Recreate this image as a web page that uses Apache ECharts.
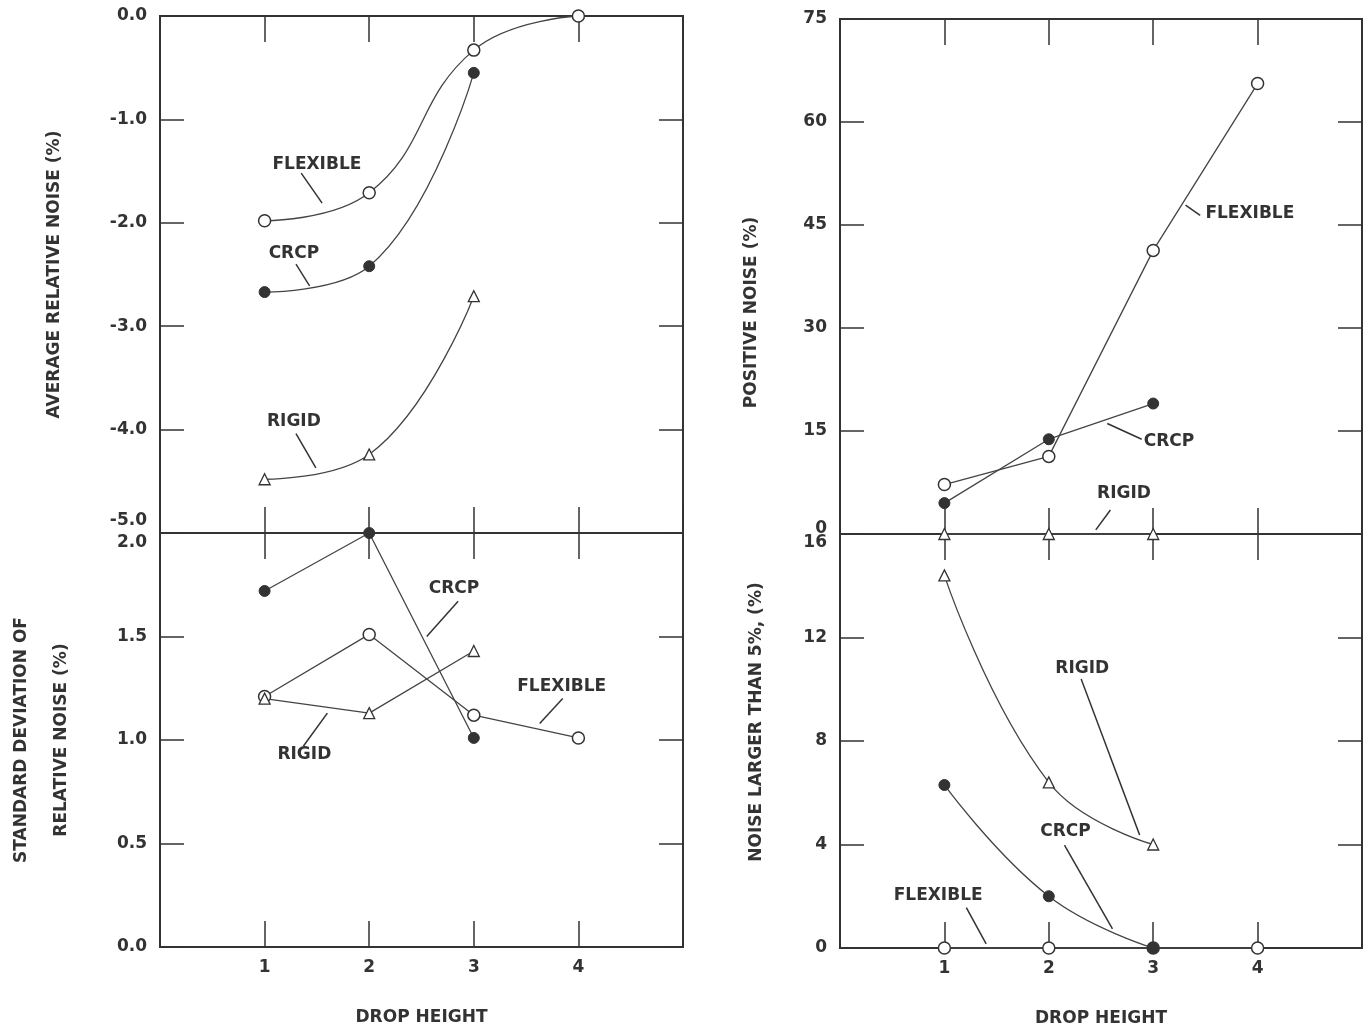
<!DOCTYPE html>
<html>
<head>
<meta charset="utf-8">
<script src="https://cdn.jsdelivr.net/npm/echarts@6/dist/echarts.min.js"></script>
<style>
html,body{margin:0;padding:0;background:#fff;}
#chart{width:1370px;height:1028px;}
</style>
</head>
<body>
<div id="chart"></div>
<script>
// ---- data ----
const dropHeight = [1, 2, 3, 4];

// Panel A: average relative noise (%)
const avgFlexible = [-1.98, -1.71, -0.33, 0.0];
const avgCrcp     = [-2.67, -2.42, -0.55];
const avgRigid    = [-4.48, -4.24, -2.71];

// Panel B: positive noise (%)
const posFlexible = [7.2, 11.3, 41.3, 65.6];
const posCrcp     = [4.5, 13.8, 19.0];
const posRigid    = [0, 0, 0];

// Panel C: standard deviation of relative noise (%)
const sdCrcp     = [1.72, 2.0, 1.01];
const sdFlexible = [1.21, 1.51, 1.12, 1.01];
const sdRigid    = [1.20, 1.13, 1.43];

// Panel D: noise larger than 5% (%)
const bigFlexible = [0, 0, 0, 0];
const bigCrcp     = [6.3, 2.0, 0];
const bigRigid    = [14.4, 6.4, 4.0];

// label annotations (data coordinates)
const annotations = [
  {g:0, text:'FLEXIBLE', at:[1.50,-1.44], align:'center', line:[[1.35,-1.52],[1.55,-1.81]]},
  {g:0, text:'CRCP',     at:[1.28,-2.30], align:'center', line:[[1.30,-2.40],[1.43,-2.61]]},
  {g:0, text:'RIGID',    at:[1.28,-3.92], align:'center', line:[[1.30,-4.04],[1.49,-4.37]]},
  {g:1, text:'FLEXIBLE', at:[3.50,46.6],  align:'left',   line:[[3.31,47.9],[3.45,46.4]]},
  {g:1, text:'CRCP',     at:[2.91,13.4],  align:'left',   line:[[2.56,16.1],[2.89,13.8]]},
  {g:1, text:'RIGID',    at:[2.72,5.9],   align:'center', line:[[2.59,3.5],[2.45,0.6]]},
  {g:2, text:'CRCP',     at:[2.81,1.73],  align:'center', line:[[2.85,1.67],[2.55,1.50]]},
  {g:2, text:'FLEXIBLE', at:[3.84,1.26],  align:'center', line:[[3.85,1.20],[3.63,1.08]]},
  {g:2, text:'RIGID',    at:[1.38,0.93],  align:'center', line:[[1.60,1.13],[1.37,0.97]]},
  {g:3, text:'RIGID',    at:[2.32,10.8],  align:'center', line:[[2.31,10.4],[2.87,4.37]]},
  {g:3, text:'CRCP',     at:[2.16,4.49],  align:'center', line:[[2.15,3.98],[2.61,0.74]]},
  {g:3, text:'FLEXIBLE', at:[0.94,2.03],  align:'center', line:[[1.21,1.56],[1.40,0.16]]}
];

// ---- styles ----
const INK = '#333';
const FONT = 'DejaVu Sans';
const labelFont = {color: INK, fontFamily: FONT, fontWeight: 'bold', fontSize: 17};
const nameFont = {color: INK, fontFamily: FONT, fontWeight: 'bold', fontSize: 17};
const tickStyle = {color: INK, width: 1.5};

const grids = [
  {left: 160, top: 16,  width: 523, height: 517},
  {left: 840, top: 19,  width: 522, height: 515},
  {left: 160, top: 533, width: 523, height: 414},
  {left: 840, top: 534, width: 522, height: 414}
].map(g => Object.assign({show: true, borderColor: INK, borderWidth: 2, backgroundColor: 'transparent'}, g));

function xAxes(g, bottomLabels) {
  const base = {
    type: 'value', gridIndex: g, min: 0, max: 5, interval: 1,
    axisLine: {show: false, onZero: false}, splitLine: {show: false},
    axisTick: {inside: true, length: 26, lineStyle: tickStyle}
  };
  return [
    Object.assign({}, base, {
      position: 'bottom',
      axisLabel: {show: bottomLabels, margin: 12, ...labelFont,
        formatter: v => (v >= 1 && v <= 4) ? String(v) : ''},
      name: bottomLabels ? 'DROP HEIGHT' : '',
      nameLocation: 'middle', nameGap: 62, nameTextStyle: nameFont
    }),
    Object.assign({}, base, {position: 'top', axisLabel: {show: false}})
  ];
}

function yAxes(g, min, max, interval, fmt, name, nameGap, namePad, lineH, rich) {
  const base = {
    type: 'value', gridIndex: g, min: min, max: max, interval: interval,
    axisLine: {show: false, onZero: false}, splitLine: {show: false},
    axisTick: {inside: true, length: 24, lineStyle: tickStyle}
  };
  return [
    Object.assign({}, base, {
      position: 'left',
      axisLabel: {margin: 13, ...labelFont, formatter: fmt, rich: rich},
      name: name, nameLocation: 'middle', nameGap: nameGap,
      nameTextStyle: Object.assign({}, nameFont, {padding: namePad, lineHeight: lineH})
    }),
    Object.assign({}, base, {position: 'right', axisLabel: {show: false}})
  ];
}

const richBase = {fontFamily: FONT, fontWeight: 'bold', fontSize: 17, color: INK};
const xAxis = [].concat(xAxes(0, false), xAxes(1, false), xAxes(2, true), xAxes(3, true));
const yAxis = [].concat(
  yAxes(0, -5, 0, 1, v => v === -5 ? '{up|-5.0}' : v.toFixed(1),
        'AVERAGE RELATIVE NOISE (%)', 95, [0,0,0,0], 20,
        {up: Object.assign({padding: [0,0,24,0]}, richBase)}),
  yAxes(1, 0, 75, 15, v => v === 0 ? '{up|0}' : String(v),
        'POSITIVE NOISE (%)', 78, [0,72,0,0], 20,
        {up: Object.assign({padding: [0,0,10,0]}, richBase)}),
  yAxes(2, 0, 2, 0.5, v => v === 2 ? '{dn|2.0}' : v.toFixed(1),
        'STANDARD DEVIATION OF\nRELATIVE NOISE (%)', 78, [0,0,0,0], 40,
        {dn: Object.assign({padding: [20,0,0,0]}, richBase)}),
  yAxes(3, 0, 16, 4, v => v === 16 ? '{dn|16}' : String(v),
        'NOISE LARGER THAN 5%, (%)', 73, [0,0,0,38], 20,
        {dn: Object.assign({padding: [18,0,0,0]}, richBase)})
);

const markerStyles = {
  open:     {symbol: 'circle',   symbolSize: 12, itemStyle: {color: '#fff', borderColor: INK, borderWidth: 1.5}},
  filled:   {symbol: 'circle',   symbolSize: 11, itemStyle: {color: INK, borderColor: INK, borderWidth: 1}},
  triangle: {symbol: 'triangle', symbolSize: 11, itemStyle: {color: '#fff', borderColor: INK, borderWidth: 1.3}}
};

function mk(g, name, vals, marker, smooth) {
  return Object.assign({
    type: 'line', name: name,
    xAxisIndex: 2 * g, yAxisIndex: 2 * g,
    data: vals.map((v, i) => [dropHeight[i], v]),
    smooth: smooth ? 0.45 : false,
    showAllSymbol: true,
    lineStyle: {color: '#444', width: 1.3},
    clip: false, z: 3
  }, markerStyles[marker]);
}

const series = [
  mk(0, 'FLEXIBLE', avgFlexible, 'open', true),
  mk(0, 'CRCP', avgCrcp, 'filled', true),
  mk(0, 'RIGID', avgRigid, 'triangle', true),
  mk(1, 'FLEXIBLE', posFlexible, 'open', false),
  mk(1, 'CRCP', posCrcp, 'filled', false),
  mk(1, 'RIGID', posRigid, 'triangle', false),
  mk(2, 'CRCP', sdCrcp, 'filled', false),
  mk(2, 'FLEXIBLE', sdFlexible, 'open', false),
  mk(2, 'RIGID', sdRigid, 'triangle', false),
  mk(3, 'FLEXIBLE', bigFlexible, 'open', false),
  mk(3, 'RIGID', bigRigid, 'triangle', true),
  mk(3, 'CRCP', bigCrcp, 'filled', true)
];

const chart = echarts.init(document.getElementById('chart'), null, {renderer: 'canvas'});
chart.setOption({
  backgroundColor: '#fff',
  animation: false,
  grid: grids, xAxis: xAxis, yAxis: yAxis, series: series
});

// annotations placed through the library's own scales
const graphic = [];
annotations.forEach(a => {
  const finder = {xAxisIndex: 2 * a.g, yAxisIndex: 2 * a.g};
  const p = chart.convertToPixel(finder, a.at);
  const p1 = chart.convertToPixel(finder, a.line[0]);
  const p2 = chart.convertToPixel(finder, a.line[1]);
  graphic.push({
    type: 'text', x: p[0], y: p[1], z: 10,
    style: {text: a.text, fill: INK, font: 'bold 17px "DejaVu Sans"',
            textAlign: a.align, textVerticalAlign: 'middle'}
  });
  graphic.push({
    type: 'line', z: 10,
    shape: {x1: p1[0], y1: p1[1], x2: p2[0], y2: p2[1]},
    style: {stroke: INK, lineWidth: 1.5}
  });
});
chart.setOption({graphic: graphic});
</script>
</body>
</html>
